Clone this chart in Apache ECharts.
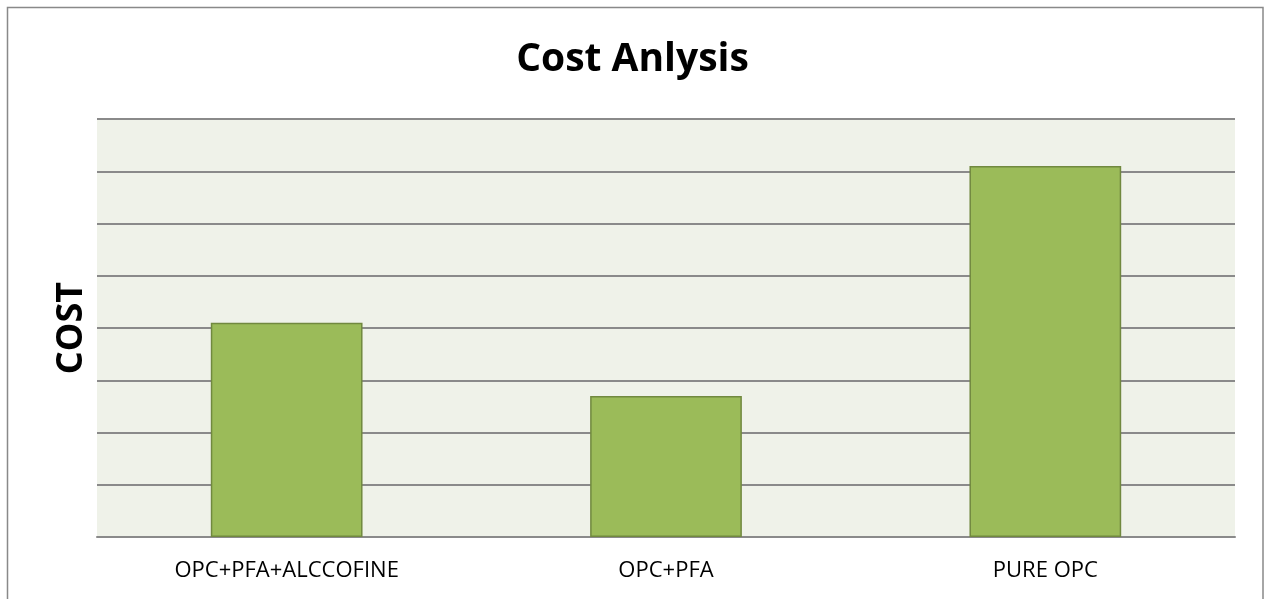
<!DOCTYPE html>
<html>
<head>
<meta charset="utf-8">
<script src="https://cdn.jsdelivr.net/npm/echarts@6/dist/echarts.min.js"></script>
<style>
  html, body { margin: 0; padding: 0; background: #ffffff; }
  #chart { width: 1265px; height: 599px; }
</style>
</head>
<body>
<div id="chart"></div>
<script>
// data (no value labels on the y axis, 8 grid steps)
const categories = ['OPC+PFA+ALCCOFINE', 'OPC+PFA', 'PURE OPC'];
const costValues = [4.1, 2.7, 7.1];

const myChart = echarts.init(document.getElementById('chart'));

let option = {
  animation: false,
  title: {
    text: 'Cost Anlysis',
    left: 'center',
    top: 35,
    textStyle: {
      fontFamily: 'Open Sans',
      fontWeight: 'bold',
      fontSize: 39,
      color: '#000000'
    }
  },
  // outer frame of the chart
  graphic: [{
    type: 'rect',
    silent: true,
    shape: { x: 7.5, y: 7.5, width: 1255.5, height: 700 },
    style: { fill: 'none', stroke: '#898989', lineWidth: 1.5 }
  }],
  grid: {
    left: 97,
    right: 30,
    top: 119,
    bottom: 62,
    show: true,
    backgroundColor: '#EFF2E9',
    borderWidth: 0
  },
  xAxis: {
    type: 'category',
    data: categories,
    axisTick: { show: false },
    axisLine: { lineStyle: { color: '#8a8a8a', width: 2 } },
    axisLabel: {
      margin: 23,
      fontFamily: 'Open Sans',
      fontSize: 22,
      color: '#000000'
    }
  },
  yAxis: {
    type: 'value',
    min: 0,
    max: 8,
    interval: 1,
    name: 'COST',
    nameLocation: 'middle',
    nameGap: 7,
    nameTextStyle: {
      fontFamily: 'Open Sans',
      fontWeight: 'bold',
      fontSize: 36,
      color: '#000000'
    },
    axisLabel: { show: false },
    axisTick: { show: false },
    axisLine: { show: false },
    splitLine: { lineStyle: { color: '#8a8a8a', width: 2 } }
  },
  series: [{
    name: 'COST',
    type: 'bar',
    data: costValues,
    barCategoryGap: '60%',
    itemStyle: {
      color: '#9BBB59',
      borderColor: '#71893F',
      borderWidth: 1.5
    }
  }]
};

myChart.setOption(option);
</script>
</body>
</html>
